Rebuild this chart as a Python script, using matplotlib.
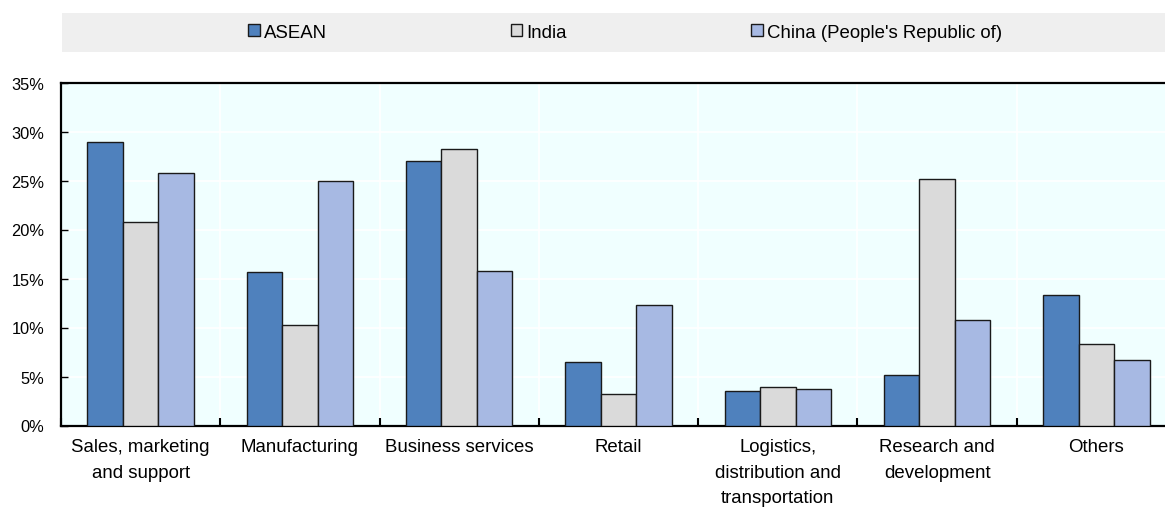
import matplotlib
matplotlib.use("Agg")
import matplotlib.pyplot as plt
from matplotlib.patches import Rectangle, Patch
from matplotlib.ticker import FuncFormatter, FixedLocator
import numpy as np

plt.rcParams['font.family'] = ['Liberation Sans', 'DejaVu Sans']

categories = [
    "Sales, marketing\nand support",
    "Manufacturing",
    "Business services",
    "Retail",
    "Logistics,\ndistribution and\ntransportation",
    "Research and\ndevelopment",
    "Others",
]
series_names = ["ASEAN", "India", "China (People's Republic of)"]
asean = [28.9, 15.7, 27.0, 6.5, 3.5, 5.2, 13.3]
india = [20.8, 10.3, 28.2, 3.2, 3.9, 25.2, 8.3]
china = [25.8, 25.0, 15.8, 12.3, 3.7, 10.8, 6.7]
y_ticks = [0, 5, 10, 15, 20, 25, 30, 35]

colors = ["#4F81BD", "#DADADA", "#A7B9E3"]
edge = "#1A1A1A"

W, H = 1165, 510
fig = plt.figure(figsize=(W / 100, H / 100), dpi=100)

# legend band
fig.patches.append(Rectangle((62 / W, 1 - 52.5 / H), (W - 62) / W, 38.5 / H,
                             transform=fig.transFigure, facecolor="#EFEFEF",
                             edgecolor="none", zorder=0))

ax_left, ax_right = 61 / W, 1176 / W
ax_bottom, ax_top = 1 - 426.5 / H, 1 - 83.5 / H
ax = fig.add_axes([ax_left, ax_bottom, ax_right - ax_left, ax_top - ax_bottom])
ax.set_facecolor("#F0FFFF")

x = np.arange(len(categories))
bw = 0.223
for i, (vals, c) in enumerate(zip([asean, india, china], colors)):
    ax.bar(x + (i - 1) * bw, vals, width=bw, color=c, edgecolor=edge,
           linewidth=1.0, zorder=3, label=series_names[i])

ax.set_xlim(-0.5, len(categories) - 0.5)
ax.set_ylim(0, 35)
ax.yaxis.set_major_locator(FixedLocator(y_ticks))
ax.yaxis.set_major_formatter(FuncFormatter(lambda v, p: f"{v:.0f}%"))
ax.set_xticks(x)
ax.set_xticklabels(categories, fontsize=13.4, linespacing=1.66)
ax.set_xticks(np.arange(len(categories) + 1) - 0.5, minor=True)

ax.grid(True, which="major", axis="y", color="white", linewidth=1.2, zorder=1)
ax.grid(True, which="minor", axis="x", color="white", linewidth=1.2, zorder=1)
ax.set_axisbelow(True)

ax.tick_params(axis="x", which="major", length=0, pad=9)
ax.tick_params(axis="x", which="minor", direction="in", length=6, width=1.5, color="black")
ax.tick_params(axis="y", which="major", direction="in", length=5, width=1.0,
               labelsize=11.8, pad=12, color="black")

for s in ["left", "bottom", "top"]:
    ax.spines[s].set_color("black")
    ax.spines[s].set_linewidth(1.6)
ax.spines["right"].set_visible(False)

handles = [Patch(facecolor=c, edgecolor=edge, linewidth=1.0) for c in colors]
fig.legend(handles, series_names, loc="center", bbox_to_anchor=(625 / W, 1 - 33.5 / H),
           ncol=3, frameon=False, fontsize=13.4, handlelength=0.62, handleheight=0.62,
           handletextpad=0.22, columnspacing=9.9, borderaxespad=0, borderpad=0)

fig.savefig("out.png", dpi=100)
